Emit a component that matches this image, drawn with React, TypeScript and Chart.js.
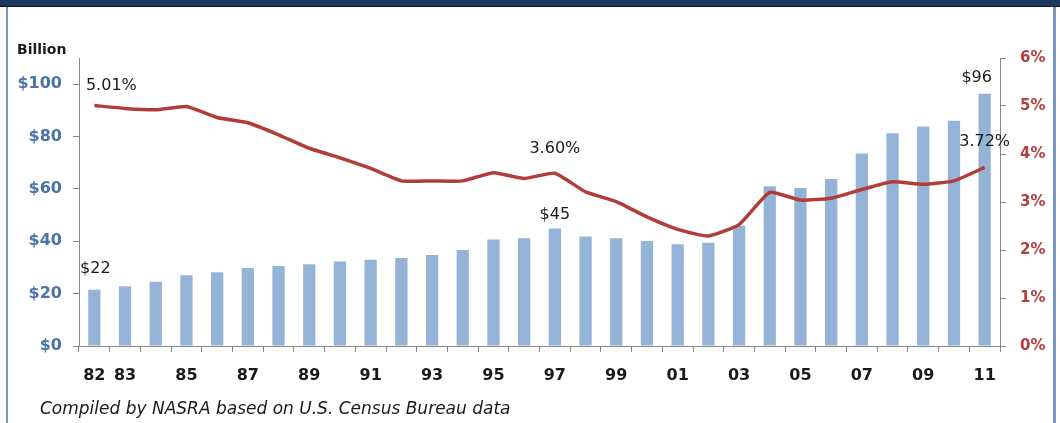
import React, { useEffect, useRef } from "react";
import { Chart, registerables } from "chart.js";

Chart.register(...registerables);

const years = [
  "1982", "1983", "1984", "1985", "1986", "1987", "1988", "1989", "1990", "1991",
  "1992", "1993", "1994", "1995", "1996", "1997", "1998", "1999", "2000", "2001",
  "2002", "2003", "2004", "2005", "2006", "2007", "2008", "2009", "2010", "2011",
];
const tickLabels = [
  "82", "83", "", "85", "", "87", "", "89", "", "91",
  "", "93", "", "95", "", "97", "", "99", "", "01",
  "", "03", "", "05", "", "07", "", "09", "", "11",
];
// Billions of dollars
const revenue = [
  21.5, 22.8, 24.5, 27.0, 28.2, 29.8, 30.6, 31.2, 32.3, 32.9,
  33.6, 34.8, 36.7, 40.7, 41.2, 44.9, 41.8, 41.2, 40.1, 38.9,
  39.4, 45.9, 61.0, 60.3, 63.8, 73.5, 81.3, 83.8, 86.0, 96.3,
];
// Percent
const share = [
  5.01, 4.95, 4.92, 4.99, 4.76, 4.65, 4.40, 4.12, 3.92, 3.70,
  3.44, 3.44, 3.44, 3.61, 3.49, 3.60, 3.21, 3.01, 2.69, 2.43,
  2.29, 2.53, 3.20, 3.04, 3.08, 3.26, 3.42, 3.37, 3.44, 3.72,
];
const leftTicks = [0, 20, 40, 60, 80, 100];
const rightTicks = [0, 1, 2, 3, 4, 5, 6];
const labeledBars = [0, 15, 29];
const labeledPoints = [0, 15, 29];

const FONT = "'DejaVu Sans', sans-serif";
const AXIS = "#868686";

const labelPlugin = {
  id: "dataLabels",
  afterDatasetsDraw(chart: any) {
    const ctx = chart.ctx;
    ctx.save();
    ctx.fillStyle = "#1a1a1a";
    ctx.textAlign = "center";
    ctx.textBaseline = "middle";
    ctx.font = `16px ${FONT}`;
    const barMeta = chart.getDatasetMeta(0);
    const barOff: Record<number, [number, number]> = { 0: [1, -21], 15: [0, -14], 29: [-8, -16] };
    labeledBars.forEach((i) => {
      const el = barMeta.data[i];
      const [dx, dy] = barOff[i] || [0, -16];
      ctx.fillText("$" + Math.round(revenue[i]), el.x + dx, el.y + dy);
    });
    const lineMeta = chart.getDatasetMeta(1);
    const lineOff: Record<number, [number, number]> = { 0: [17, -20], 15: [0, -24], 29: [0, -26] };
    labeledPoints.forEach((i) => {
      const el = lineMeta.data[i];
      const [dx, dy] = lineOff[i] || [0, -20];
      ctx.fillText(share[i].toFixed(2) + "%", el.x + dx, el.y + dy);
    });
    ctx.restore();
  },
};

export default function App() {
  const ref = useRef<HTMLCanvasElement>(null);
  useEffect(() => {
    document.body.style.margin = "0";
    const chart = new Chart(ref.current!, {
      type: "bar",
      data: {
        labels: years,
        datasets: [
          {
            type: "bar",
            data: revenue,
            backgroundColor: "#95b3d7",
            barPercentage: 0.4,
            categoryPercentage: 1,
            yAxisID: "y",
            order: 2,
          },
          {
            type: "line",
            data: share,
            borderColor: "#b03d3a",
            borderWidth: 3.5,
            pointRadius: 0,
            tension: 0.15,
            yAxisID: "y1",
            order: 1,
          } as any,
        ],
      },
      options: {
        responsive: false,
        animation: false,
        layout: { padding: { top: 58, left: 0, right: 0, bottom: 0 } },
        plugins: { legend: { display: false }, tooltip: { enabled: false } },
        scales: {
          x: {
            offset: true,
            grid: { offset: true, drawOnChartArea: false, drawTicks: true, tickLength: 6, color: AXIS },
            border: { color: AXIS, width: 1 },
            ticks: {
              autoSkip: false,
              maxRotation: 0,
              padding: 14,
              color: "#1a1a1a",
              font: { family: FONT, size: 16, weight: "bold" },
              callback: (_v: any, i: number) => tickLabels[i],
            },
            afterFit: (s: any) => { s.height = 77; },
          },
          y: {
            position: "left",
            min: 0,
            max: 110,
            grid: { drawOnChartArea: false, drawTicks: true, tickLength: 6, color: AXIS },
            border: { color: AXIS, width: 1 },
            afterBuildTicks: (s: any) => { s.ticks = leftTicks.map((v) => ({ value: v })); },
            ticks: {
              padding: 11,
              color: "#4a73a8",
              font: { family: FONT, size: 16, weight: "bold" },
              callback: (v: any) => "$" + v,
            },
            afterFit: (s: any) => { s.width = 79; },
          },
          y1: {
            position: "right",
            min: 0,
            max: 6,
            grid: { drawOnChartArea: false, drawTicks: true, tickLength: 6, color: AXIS },
            border: { color: AXIS, width: 1 },
            afterBuildTicks: (s: any) => { s.ticks = rightTicks.map((v) => ({ value: v })); },
            ticks: {
              padding: 14,
              color: "#b0413e",
              font: { family: FONT, size: 15, weight: "bold" },
              callback: (v: any) => v + "%",
            },
            afterFit: (s: any) => { s.width = 60; },
          },
        },
      } as any,
      plugins: [labelPlugin],
    });
    return () => chart.destroy();
  }, []);

  return (
    <div style={{ position: "relative", width: 1060, height: 423, background: "#fff", overflow: "hidden" }}>
      <canvas ref={ref} width={1060} height={423} style={{ position: "absolute", left: 0, top: 0 }} />
      <div style={{ position: "absolute", left: 0, top: 0, width: 1060, height: 6, background: "#1b3861" }} />
      <div style={{ position: "absolute", left: 0, top: 6, width: 1060, height: 1, background: "#10141c" }} />
      <div style={{ position: "absolute", left: 6, top: 7, width: 2, height: 416, background: "#7b95bb" }} />
      <div style={{ position: "absolute", left: 1053, top: 7, width: 3, height: 416, background: "#7b95bb" }} />
      <div
        style={{
          position: "absolute", left: 17, top: 41, fontFamily: FONT, fontWeight: "bold",
          fontSize: 14, lineHeight: "16px", color: "#1a1a1a",
        }}
      >
        Billion
      </div>
      <div
        style={{
          position: "absolute", left: 40, top: 398, fontFamily: FONT, fontStyle: "italic",
          fontSize: 17, lineHeight: "20px", color: "#1a1a1a", whiteSpace: "nowrap",
        }}
      >
        Compiled by NASRA based on U.S. Census Bureau data
      </div>
    </div>
  );
}
